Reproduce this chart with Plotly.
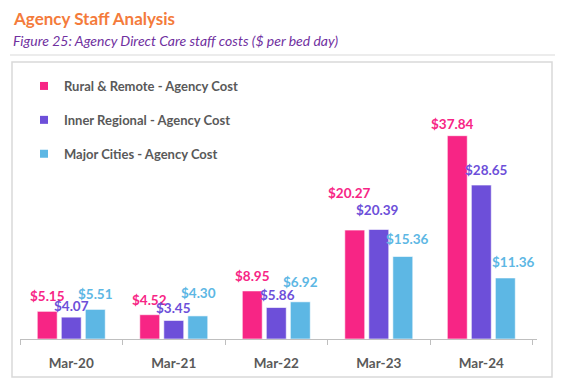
import plotly.graph_objects as go

categories = ["Mar-20", "Mar-21", "Mar-22", "Mar-23", "Mar-24"]
rural_remote = [5.15, 4.52, 8.95, 20.27, 37.84]
inner_regional = [4.07, 3.45, 5.86, 20.39, 28.65]
major_cities = [5.51, 4.30, 6.92, 15.36, 11.36]

series_names = ["Rural & Remote - Agency Cost", "Inner Regional - Agency Cost", "Major Cities - Agency Cost"]
series_values = [rural_remote, inner_regional, major_cities]
colors = ["#F72585", "#6D4FD9", "#5DB7E4"]

# label placement tweaks (pixels): vertical gap above bar top, horizontal nudge
label_dy = [
    [15, 15, 15, 37, 12],
    [11, 12, 13, 19, 15],
    [15, 23, 20, 17, 16],
]
label_dx = [
    [0, 0, 0, -5, -5],
    [0, 0, 1, -1, 5],
    [0, 1, 0, 5, 8],
]

W, H = 569, 392
L, R, T, B = 20, 32, 70, 53
pw, ph = W - L - R, H - T - B
slot = 24.2

def px_x(x):  # page px -> paper
    return (x - L) / pw

def px_y(y):
    return (H - B - y) / ph

fig = go.Figure()
for name, vals, col in zip(series_names, series_values, colors):
    fig.add_trace(go.Bar(
        x=categories, y=vals, name=name, showlegend=False,
        marker=dict(color=col, line=dict(color="rgba(255,255,255,0.6)", width=1)),
    ))
for name, col in zip(series_names, colors):
    fig.add_trace(go.Scatter(
        x=[None], y=[None], mode="markers", name=name, legendgroup=name,
        marker=dict(symbol="square", size=8, color=col),
    ))

annotations = [
    dict(text="<b>Agency Staff Analysis</b>", xref="paper", yref="paper",
         x=px_x(11), y=px_y(18), xanchor="left", yanchor="middle", showarrow=False,
         font=dict(family="Lato", size=17, color="#F47B3B")),
    dict(text="<i>Figure 25: Agency Direct Care staff costs ($ per bed day)</i>", xref="paper", yref="paper",
         x=px_x(11), y=px_y(40), xanchor="left", yanchor="middle", showarrow=False,
         font=dict(family="Lato", size=14, color="#7030A0")),
]
for s, (vals, col) in enumerate(zip(series_values, colors)):
    for i, (cat, v) in enumerate(zip(categories, vals)):
        annotations.append(dict(
            x=cat, y=v, xref="x", yref="y", text=f"${v:.2f}", showarrow=False,
            xanchor="center", yanchor="middle",
            xshift=(s - 1) * slot + label_dx[s][i], yshift=label_dy[s][i],
            font=dict(family="Lato", size=13.5, color=col, weight="bold"),
        ))

fig.update_layout(
    width=W, height=H,
    margin=dict(l=L, r=R, t=T, b=B),
    paper_bgcolor="white", plot_bgcolor="white",
    barmode="group", bargap=0.297, bargroupgap=0.17,
    font=dict(family="Lato"),
    showlegend=True,
    legend=dict(
        x=px_x(24), y=px_y(71), xanchor="left", yanchor="top",
        font=dict(family="Lato", size=13, color="#595959", weight="bold"),
        tracegroupgap=14, bgcolor="rgba(0,0,0,0)",
    ),
    xaxis=dict(
        showline=True, linecolor="#BFBFBF", linewidth=1,
        ticks="outside", tickson="boundaries", ticklen=5, tickcolor="#BFBFBF",
        tickfont=dict(family="Lato", size=13.5, color="#595959", weight="bold"),
        ticklabelstandoff=12, showgrid=False,
    ),
    yaxis=dict(range=[0, ph / 5.373], visible=False, showgrid=False),
    shapes=[
        dict(type="rect", xref="paper", yref="paper",
             x0=px_x(12), x1=px_x(552), y0=px_y(377), y1=px_y(62),
             line=dict(color="#D9D9D9", width=1.5), fillcolor="rgba(0,0,0,0)", layer="below"),
        dict(type="line", xref="paper", yref="paper",
             x0=px_x(10), x1=px_x(555), y0=px_y(55), y1=px_y(55),
             line=dict(color="#D9D9D9", width=1)),
    ],
    annotations=annotations,
)

fig.write_html(
    "out.html",
    config={"displayModeBar": False},
    post_script="document.body.style.margin='0px';document.body.style.overflow='hidden';"
                "document.documentElement.style.overflow='hidden';",
)
